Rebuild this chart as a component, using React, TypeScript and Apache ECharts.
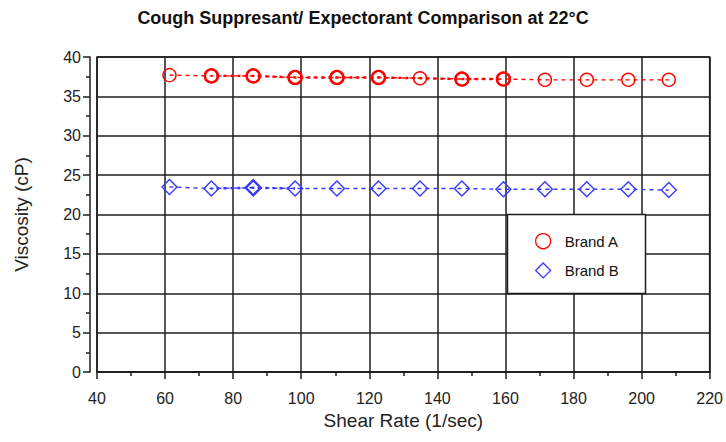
import React, { useEffect, useRef } from "react";
import * as echarts from "echarts";

const shearRate = [61.3, 73.6, 85.9, 98.2, 110.5, 122.7, 134.9, 147.2, 159.4, 171.6, 183.9, 196.1, 208.0];
const brandA = [37.7, 37.6, 37.6, 37.4, 37.4, 37.4, 37.3, 37.2, 37.2, 37.1, 37.1, 37.1, 37.1];
const brandARepeat = [null, 37.6, 37.6, 37.4, 37.4, 37.4, null, 37.2, 37.2, null, null, null, null];
const brandB = [23.5, 23.3, 23.4, 23.3, 23.3, 23.3, 23.3, 23.3, 23.2, 23.2, 23.2, 23.2, 23.1];
const brandBRepeat = [null, 23.3, 23.4, 23.3, null, null, null, null, null, null, null, null, null];
const seriesNames = ["Brand A", "Brand B"];
const titleText = "Cough Suppresant/ Expectorant Comparison at 22°C";
const xName = "Shear Rate (1/sec)";
const yName = "Viscosity (cP)";

const RED = "#ff0000";
const BLUE = "#3a3aff";
const GRID = "#1e1e1e";
const SANS = "'Liberation Sans', Arial, sans-serif";

function pairs(vals: (number | null)[]) {
  return shearRate.map((x, i) => [x, vals[i] == null ? "-" : vals[i]]);
}

export default function App() {
  const ref = useRef<HTMLDivElement>(null);
  useEffect(() => {
    const chart = echarts.init(ref.current!, null, { renderer: "svg" });
    const axisCommon = {
      axisLine: { show: true, lineStyle: { color: GRID, width: 1.5 } },
      axisTick: { show: true, inside: false, length: 7, lineStyle: { color: GRID, width: 1.5 } },
      minorTick: { show: true, splitNumber: 2, length: 4, lineStyle: { color: GRID, width: 1.5 } },
      splitLine: { show: true, lineStyle: { color: GRID, width: 1.5 } },
      minorSplitLine: { show: false },
      axisLabel: { fontSize: 16, color: "#222", fontFamily: SANS },
      nameTextStyle: { fontSize: 19, color: "#222", fontFamily: SANS },
      nameLocation: "middle" as const,
    };
    const option: any = {
      animation: false,
      backgroundColor: "#fff",
      title: {
        text: titleText,
        left: "center",
        top: 4,
        textStyle: { fontFamily: SANS, fontWeight: "bold", fontSize: 18, color: "#111" },
      },
      grid: {
        left: 97,
        right: 13,
        top: 57,
        bottom: 70,
        show: true,
        borderColor: GRID,
        borderWidth: 1.5,
        containLabel: false,
      },
      xAxis: {
        type: "value",
        min: 40,
        max: 220,
        interval: 20,
        offset: 7,
        name: xName,
        nameGap: 31,
        ...axisCommon,
        axisLabel: { ...axisCommon.axisLabel, margin: 11 },
      },
      yAxis: {
        type: "value",
        min: 0,
        max: 40,
        interval: 5,
        offset: 7,
        name: yName,
        nameGap: 59,
        ...axisCommon,
        axisLabel: { ...axisCommon.axisLabel, margin: 9 },
      },
      graphic: [
        {
          type: "rect",
          shape: { x: 507.5, y: 214.5, width: 138, height: 79 },
          style: { fill: "#fff", stroke: GRID, lineWidth: 1.5 },
          z: 100,
        },
      ],
      legend: {
        left: 530,
        top: 228,
        orient: "vertical",
        itemWidth: 15,
        itemHeight: 15,
        itemGap: 13,
        z: 110,
        textStyle: { fontFamily: SANS, fontSize: 15, color: "#111", padding: [0, 0, 0, 9] },
        data: [
          { name: seriesNames[0], icon: "circle", itemStyle: { color: "transparent", borderColor: RED, borderWidth: 1.3 } },
          { name: seriesNames[1], icon: "diamond", itemStyle: { color: "transparent", borderColor: BLUE, borderWidth: 1.3 } },
        ],
      },
      series: [
        {
          name: seriesNames[0],
          type: "line",
          data: pairs(brandA),
          symbol: "circle",
          symbolSize: 13,
          itemStyle: { color: "transparent", borderColor: RED, borderWidth: 1.4 },
          lineStyle: { color: RED, width: 1.4, type: [4, 4] },
          z: 3,
        },
        {
          name: seriesNames[0],
          type: "line",
          data: pairs(brandARepeat),
          connectNulls: true,
          symbol: "circle",
          symbolSize: 13,
          itemStyle: { color: "transparent", borderColor: RED, borderWidth: 2.4 },
          lineStyle: { color: RED, width: 2.4, type: [3, 4], dashOffset: 2 },
          z: 4,
        },
        {
          name: seriesNames[1],
          type: "line",
          data: pairs(brandB),
          symbol: "diamond",
          symbolSize: 15,
          itemStyle: { color: "transparent", borderColor: BLUE, borderWidth: 1.4 },
          lineStyle: { color: BLUE, width: 1.4, type: [4, 4] },
          z: 3,
        },
        {
          name: seriesNames[1],
          type: "line",
          data: pairs(brandBRepeat).map((p, i) => (i === 2 ? p : { value: p, symbol: "none" })),
          symbol: "diamond",
          symbolSize: 15,
          itemStyle: { color: "transparent", borderColor: BLUE, borderWidth: 2.4 },
          lineStyle: { color: BLUE, width: 2.4, type: [3, 4], dashOffset: 2 },
          z: 4,
        },
      ],
    };
    chart.setOption(option);
    return () => chart.dispose();
  }, []);
  return <div ref={ref} style={{ position: "fixed", left: 0, top: 0, width: 726, height: 442 }} />;
}
